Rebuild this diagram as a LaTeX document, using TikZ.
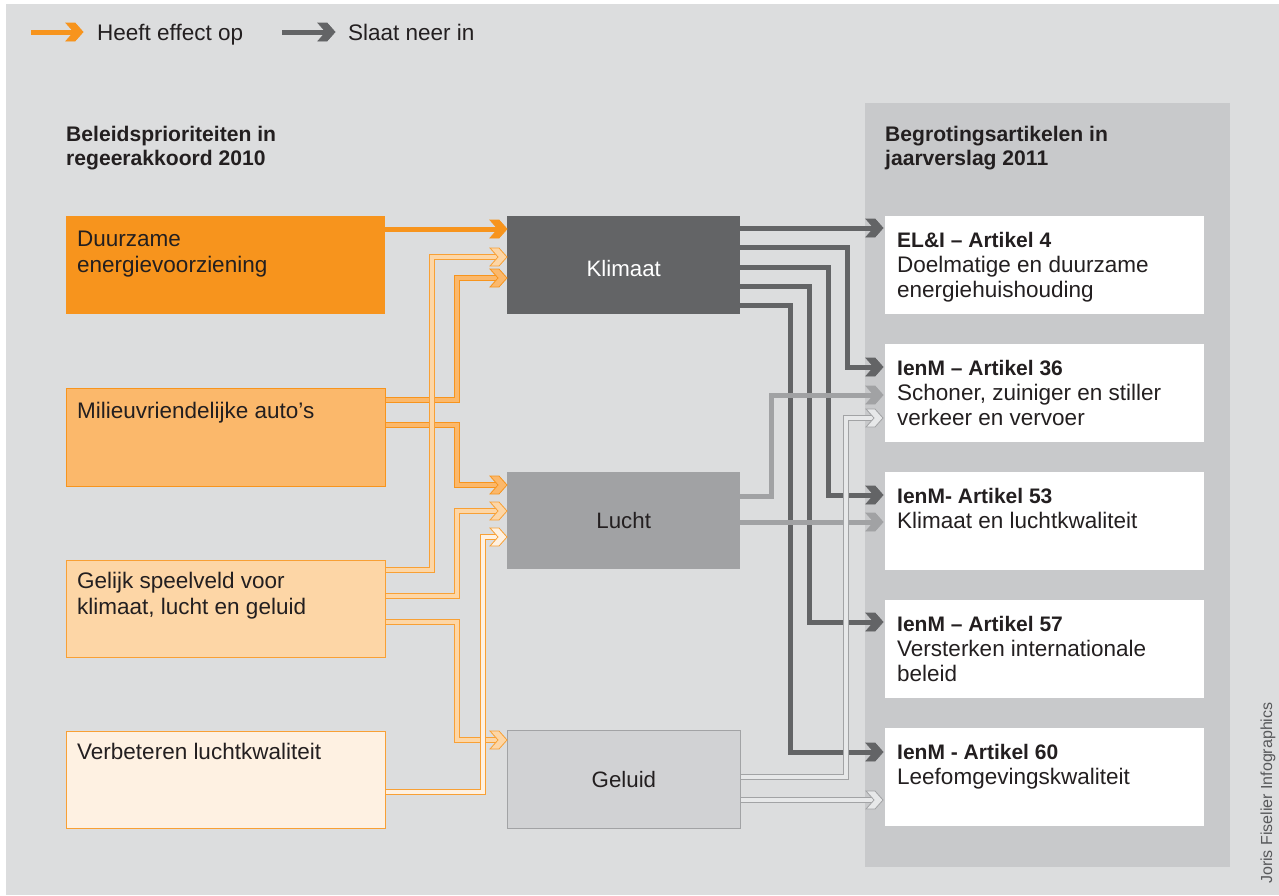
\documentclass[tikz,border=0pt]{standalone}
\usepackage{fontspec}
\setmainfont{Liberation Sans}
\usetikzlibrary{calc}
\definecolor{bgc}{HTML}{DCDDDE}
\definecolor{panelc}{HTML}{C8C9CB}
\definecolor{orA}{HTML}{F7941D}
\definecolor{orB}{HTML}{FBB86B}
\definecolor{orC}{HTML}{FDD6A6}
\definecolor{orD}{HTML}{FEF1E2}
\definecolor{orE}{HTML}{F8A035}
\definecolor{gyA}{HTML}{636466}
\definecolor{gyB}{HTML}{A1A2A4}
\definecolor{gyC}{HTML}{D1D2D4}
\definecolor{gyD}{HTML}{E7E8E9}
\definecolor{gyE}{HTML}{A2A3A5}
\definecolor{txt}{HTML}{231F20}
\definecolor{credc}{HTML}{58595B}
\newcommand\chevhead[3]{\filldraw[fill=#2, draw=#3, line width=0.8pt, line join=miter] #1 -- ++(-8,-9) -- ++(-9,0) -- ++(8,9) -- ++(-8,9) -- ++(9,0) -- cycle;}
\tikzset{
  lbox/.style={anchor=north west, inner sep=0pt, minimum width=319pt, minimum height=98pt},
  mbox/.style={anchor=north west, inner sep=0pt, minimum width=233pt, minimum height=98pt},
  rbox/.style={anchor=north west, inner sep=0pt, minimum width=319pt, minimum height=98pt, fill=white},
  ltext/.style={anchor=base west, inner sep=0pt, align=left, text=txt, font=\fontsize{22.5}{26}\selectfont},
  rtext/.style={anchor=base west, inner sep=0pt, align=left, text=txt, font=\fontsize{22.5}{25}\selectfont},
  htext/.style={anchor=base west, inner sep=0pt, align=left, text=txt, font=\bfseries\fontsize{21.1}{24}\selectfont},
  mtext/.style={inner sep=0pt, font=\fontsize{22.3}{26}\selectfont},
  oline/.style n args={2}{draw=#2, double=#1, double distance=4.5pt, line width=1.1pt, line join=miter},
  gline/.style={draw=#1, line width=5pt, line join=miter},
  hline/.style={draw=gyE, double=gyD, double distance=3.4pt, line width=0.9pt, line join=miter},
}
\begin{document}
\begin{tikzpicture}[x=1pt,y=-1pt]
\useasboundingbox (0,0) rectangle (1279,895);
\fill[white] (0,0) rectangle (1279,895);
\fill[bgc] (6,4) rectangle (1279,895);
\fill[panelc] (865,103) rectangle (1230,867);

% legend
\coordinate (l1s) at (31,32);
\coordinate (l1t) at (83,32);
\draw[gline=orA] (l1s) -- ($(l1t)+(-8,0)$);
\chevhead{(l1t)}{orA}{orA}
\node[ltext] (leg1) at (97,40) {Heeft effect op};
\coordinate (l2s) at (282,32);
\coordinate (l2t) at (335,32);
\draw[gline=gyA] (l2s) -- ($(l2t)+(-8,0)$);
\chevhead{(l2t)}{gyA}{gyA}
\node[ltext] (leg2) at (348,40) {Slaat neer in};

% headers (base anchor = last line)
\node[htext] (hleft) at (66,165) {Beleidsprioriteiten in\\regeerakkoord 2010};
\node[htext] (hright) at (885,165) {Begrotingsartikelen in\\jaarverslag 2011};

% left boxes
\node[lbox, fill=orA] (dur) at (66,216) {};
\node[lbox, fill=orB, draw=orA, line width=0.8pt] (mil) at (66,388) {};
\node[lbox, fill=orC, draw=orE, line width=0.8pt, minimum height=97pt] (gel) at (66,560) {};
\node[lbox, fill=orD, draw=orE, line width=0.8pt, minimum height=97pt] (ver) at (66,731) {};
\node[ltext] (durt) at ($(dur.north west)+(11,56)$) {Duurzame\\energievoorziening};
\node[ltext] (milt) at ($(mil.north west)+(11,30)$) {Milieuvriendelijke auto’s};
\node[ltext] (gelt) at ($(gel.north west)+(11,54)$) {Gelijk speelveld voor\\klimaat, lucht en geluid};
\node[ltext] (vert) at ($(ver.north west)+(11,28)$) {Verbeteren luchtkwaliteit};

% middle boxes
\node[mbox, fill=gyA] (kli) at (507,216) {};
\node[mbox, fill=gyB, minimum height=97pt] (luc) at (507,472) {};
\node[mbox, fill=gyC, draw=gyE, line width=0.8pt] (glu) at (507,730) {};
\node[mtext, text=white] (klit) at ($(kli.center)+(0,3)$) {Klimaat};
\node[mtext, text=txt] (luct) at (luc.center) {Lucht};
\node[mtext, text=txt] (glut) at (glu.center) {Geluid};

% right boxes
\node[rbox] (a4) at (885,216) {};
\node[rbox] (a36) at (885,344) {};
\node[rbox] (a53) at (885,472) {};
\node[rbox] (a57) at (885,600) {};
\node[rbox] (a60) at (885,728) {};
\node[rtext] (a4t) at ($(a4.north west)+(12,81)$) {\textbf{\fontsize{21}{25}\selectfont EL\&I – Artikel 4}\\Doelmatige en duurzame\\energiehuishouding};
\node[rtext] (a36t) at ($(a36.north west)+(12,81)$) {\textbf{\fontsize{21}{25}\selectfont IenM – Artikel 36}\\Schoner, zuiniger en stiller\\verkeer en vervoer};
\node[rtext] (a53t) at ($(a53.north west)+(12,56)$) {\textbf{\fontsize{21}{25}\selectfont IenM- Artikel 53}\\Klimaat en luchtkwaliteit};
\node[rtext] (a57t) at ($(a57.north west)+(12,81)$) {\textbf{\fontsize{21}{25}\selectfont IenM – Artikel 57}\\Versterken internationale\\beleid};
\node[rtext] (a60t) at ($(a60.north west)+(12,56)$) {\textbf{\fontsize{21}{25}\selectfont IenM - Artikel 60}\\Leefomgevingskwaliteit};

% ---- orange connectors ----
% Duurzame -> Klimaat
\draw[gline=orA] ($(dur.north east)+(0,13)$) -- ($(kli.north west)+(-8,13)$);
\chevhead{($(kli.north west)+(0,13)$)}{orA}{orA}
% Milieu -> Klimaat
\draw[oline={orB}{orA}] ($(mil.north east)+(0,12)$) -| ($(kli.north west)+(-50,62)$) -- ($(kli.north west)+(-8,62)$);
\chevhead{($(kli.north west)+(0,62)$)}{orB}{orA}
% Milieu -> Lucht
\draw[oline={orB}{orA}] ($(mil.north east)+(0,37)$) -| ($(luc.north west)+(-50,13)$) -- ($(luc.north west)+(-8,13)$);
\chevhead{($(luc.north west)+(0,13)$)}{orB}{orA}
% Gelijk -> Klimaat
\draw[oline={orC}{orE}] ($(gel.north east)+(0,10)$) -| ($(kli.north west)+(-75,41)$) -- ($(kli.north west)+(-8,41)$);
\chevhead{($(kli.north west)+(0,41)$)}{orC}{orE}
% Gelijk -> Lucht
\draw[oline={orC}{orE}] ($(gel.north east)+(0,36)$) -| ($(luc.north west)+(-50,39)$) -- ($(luc.north west)+(-8,39)$);
\chevhead{($(luc.north west)+(0,39)$)}{orC}{orE}
% Gelijk -> Geluid
\draw[oline={orC}{orE}] ($(gel.north east)+(0,62)$) -| ($(glu.north west)+(-50,10)$) -- ($(glu.north west)+(-8,10)$);
\chevhead{($(glu.north west)+(0,10)$)}{orC}{orE}
% Verbeteren -> Lucht
\draw[oline={orD}{orE}] ($(ver.north east)+(0,61)$) -| ($(luc.north west)+(-24,65)$) -- ($(luc.north west)+(-8,65)$);
\chevhead{($(luc.north west)+(0,65)$)}{orD}{orE}

% ---- grey connectors ----
\draw[gline=gyA] ($(kli.north east)+(0,12)$) -- ($(a4.north west)+(-10,12)$);
\chevhead{($(a4.north west)+(-2,12)$)}{gyA}{gyA}
\draw[gline=gyA] ($(kli.north east)+(0,31)$) -| ($(a36.north west)+(-38,23)$) -- ($(a36.north west)+(-10,23)$);
\chevhead{($(a36.north west)+(-2,23)$)}{gyA}{gyA}
\draw[gline=gyA] ($(kli.north east)+(0,51)$) -| ($(a53.north west)+(-57,23)$) -- ($(a53.north west)+(-10,23)$);
\chevhead{($(a53.north west)+(-2,23)$)}{gyA}{gyA}
\draw[gline=gyA] ($(kli.north east)+(0,70)$) -| ($(a57.north west)+(-76,22)$) -- ($(a57.north west)+(-10,22)$);
\chevhead{($(a57.north west)+(-2,22)$)}{gyA}{gyA}
\draw[gline=gyA] ($(kli.north east)+(0,89)$) -| ($(a60.north west)+(-95,24)$) -- ($(a60.north west)+(-10,24)$);
\chevhead{($(a60.north west)+(-2,24)$)}{gyA}{gyA}
% Lucht
\draw[gline=gyB] ($(luc.north east)+(0,24)$) -| ($(a36.north west)+(-114,51)$) -- ($(a36.north west)+(-10,51)$);
\chevhead{($(a36.north west)+(-2,51)$)}{gyB}{gyB}
\draw[gline=gyB] ($(luc.north east)+(0,50)$) -- ($(a53.north west)+(-10,50)$);
\chevhead{($(a53.north west)+(-2,50)$)}{gyB}{gyB}
% Geluid
\draw[hline] ($(glu.north east)+(0,47)$) -| ($(a36.north west)+(-39,74)$) -- ($(a36.north west)+(-10,74)$);
\chevhead{($(a36.north west)+(-2,74)$)}{gyD}{gyE}
\draw[hline] ($(glu.north east)+(0,70)$) -- ($(a60.north west)+(-10,72)$);
\chevhead{($(a60.north west)+(-2,72)$)}{gyD}{gyE}

% credit
\node[anchor=base west, rotate=90, inner sep=0pt, text=credc, font=\fontsize{16}{18}\selectfont] (cred) at (1272,884) {Joris Fiselier Infographics};
\end{tikzpicture}
\end{document}
